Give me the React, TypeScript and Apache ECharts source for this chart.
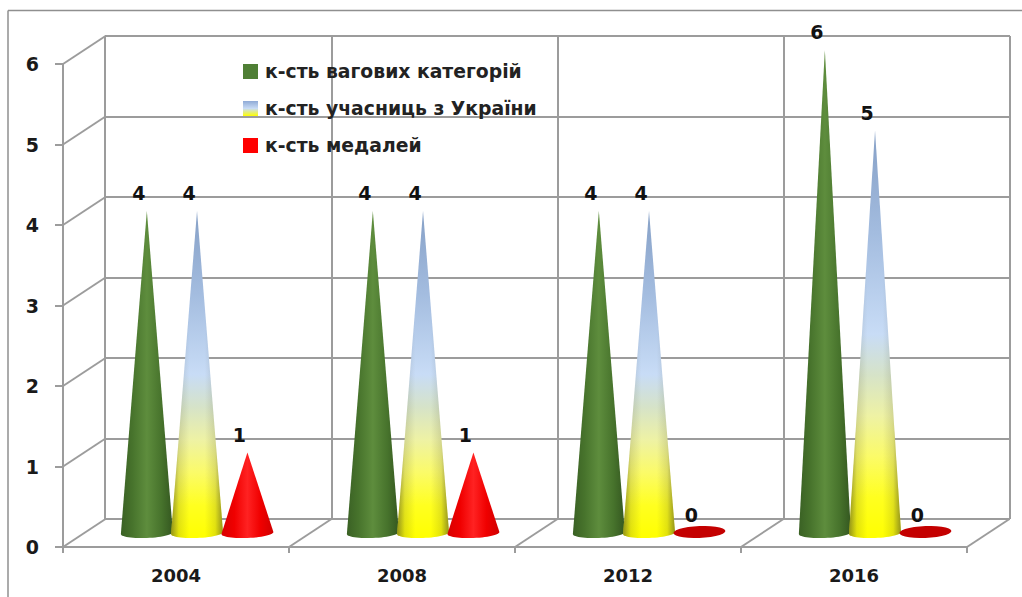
import React, { useEffect, useRef } from "react";
import * as echarts from "echarts";

const years = ["2004", "2008", "2012", "2016"];
const categoriesCount = [4, 4, 4, 6];
const ukraineCount = [4, 4, 4, 5];
const medalsCount = [1, 1, 0, 0];
const valueTicks = [0, 1, 2, 3, 4, 5, 6];
const seriesNames = ["к-сть вагових категорій", "к-сть учасниць з України", "к-сть медалей"];

const FONT = "'DejaVu Sans', Verdana, sans-serif";
const GREY = "#9c9c9c";
const DEPTH_X = 42.5;
const DEPTH_Y = 28;
const TILT = 0.04;

const hGrad = (stops: [number, string][]) =>
  new echarts.graphic.LinearGradient(0, 0, 1, 0, stops.map(([offset, color]) => ({ offset, color })));
const vGrad = (stops: [number, string][]) =>
  new echarts.graphic.LinearGradient(0, 0, 0, 1, stops.map(([offset, color]) => ({ offset, color })));

const greenFill = () =>
  hGrad([[0, "#3a6124"], [0.22, "#47732c"], [0.5, "#5e8d3d"], [0.78, "#47732c"], [1, "#345720"]]);
const ukraineFill = () =>
  vGrad([[0, "#86a0c6"], [0.25, "#a3bcdf"], [0.5, "#c8dcf6"], [0.6, "#d6e3c8"], [0.7, "#eef2a4"], [0.8, "#fbfb68"], [0.9, "#ffff20"], [1, "#ffff00"]]);
const ukraineShade = () =>
  hGrad([[0, "rgba(60,60,40,0.55)"], [0.15, "rgba(60,60,40,0.15)"], [0.35, "rgba(60,60,40,0)"], [0.65, "rgba(60,60,40,0)"], [0.85, "rgba(60,60,40,0.15)"], [1, "rgba(60,60,40,0.55)"]]);
const redFill = () =>
  hGrad([[0, "#d80000"], [0.25, "#f00000"], [0.5, "#ff2222"], [0.75, "#f00000"], [1, "#d00000"]]);

function arc(cx: number, cy: number, rx: number, ry: number, from: number, to: number) {
  const pts: number[][] = [];
  const n = 28;
  for (let i = 0; i <= n; i++) {
    const a = from + ((to - from) * i) / n;
    const dx = rx * Math.cos(a);
    pts.push([cx + dx, cy + ry * Math.sin(a) - TILT * dx]);
  }
  return pts;
}

function coneRenderer(offset: number, fill: () => any, shade?: () => any) {
  return (_: any, api: any) => {
    const idx = api.value(0);
    const val = api.value(1);
    const band = api.size([1, 0])[0];
    const [c0, baseY] = api.coord([idx, 0]);
    const topY = api.coord([idx, val])[1];
    const cx = c0 + band * offset;
    const rx = band * 0.115;
    const ry = 5;
    const label = {
      type: "text",
      z2: 20,
      style: {
        text: String(val),
        x: cx - 8,
        y: topY - 18,
        align: "center",
        verticalAlign: "middle",
        font: `bold 19px ${FONT}`,
        fill: "#111",
      },
    };
    if (val === 0) {
      return {
        type: "group",
        children: [
          { type: "polygon", shape: { points: arc(cx, baseY - 1, rx, ry + 1, 0, Math.PI * 2) }, style: { fill: "#c40000" } },
          label,
        ],
      };
    }
    const pts = [[cx, topY], ...arc(cx, baseY, rx, ry, 0, Math.PI)];
    const children: any[] = [{ type: "polygon", shape: { points: pts }, style: { fill: fill() } }];
    if (shade) children.push({ type: "polygon", shape: { points: pts }, style: { fill: shade() } });
    children.push(label);
    return { type: "group", children };
  };
}

function App() {
  const ref = useRef<HTMLDivElement>(null);
  useEffect(() => {
    document.body.style.margin = "0";
    const chart = echarts.init(ref.current!, undefined, { renderer: "svg" });
    const hiddenAxis = { show: false };
    const lineStyle = { color: GREY, width: 2 };

    const xBase = { type: "category", data: years };
    const yBase = { type: "value", min: 0, max: 6, interval: 1 };

    chart.setOption({
      animation: false,
      backgroundColor: "#ffffff",
      graphic: [
        { type: "line", shape: { x1: 8, y1: 10.5, x2: 1022, y2: 10.5 }, style: { stroke: "#8f8f8f", lineWidth: 1.5 } },
        { type: "line", shape: { x1: 8, y1: 10.5, x2: 8, y2: 597 }, style: { stroke: "#8f8f8f", lineWidth: 1.5 } },
      ],
      legend: {
        orient: "vertical",
        left: 243,
        top: 62,
        padding: 0,
        itemWidth: 15,
        itemHeight: 15,
        itemGap: 18,
        selectedMode: false,
        icon: "rect",
        textStyle: { fontFamily: FONT, fontWeight: "bold", fontSize: 18.8, color: "#222", lineHeight: 16, padding: [0, 0, 0, 2] },
        data: [
          { name: seriesNames[0], itemStyle: { color: "#4f7f35" } },
          { name: seriesNames[1], itemStyle: { color: vGrad([[0, "#8faad6"], [0.5, "#c9dcf5"], [1, "#ffff00"]]) } },
          { name: seriesNames[2], itemStyle: { color: "#ff0000" } },
        ],
      },
      grid: [
        { left: 105, top: 36, width: 905, height: 483 }, // back wall
        { left: 63, top: 64, width: 904, height: 483 }, // front plane
        { left: 84.7, top: 50, width: 904, height: 483 }, // plane of the cones
      ],
      xAxis: [
        {
          ...xBase,
          gridIndex: 0,
          axisLine: hiddenAxis,
          axisTick: hiddenAxis,
          axisLabel: hiddenAxis,
          splitLine: { show: true, lineStyle },
        },
        {
          ...xBase,
          gridIndex: 1,
          axisLine: { show: true, lineStyle },
          axisTick: { show: true, length: 6, lineStyle },
          axisLabel: { margin: 19, fontFamily: FONT, fontWeight: "bold", fontSize: 18, color: "#1a1a1a" },
          splitLine: hiddenAxis,
        },
        { ...xBase, gridIndex: 2, show: false },
      ],
      yAxis: [
        {
          ...yBase,
          gridIndex: 0,
          axisLine: hiddenAxis,
          axisTick: hiddenAxis,
          axisLabel: hiddenAxis,
          splitLine: { show: true, lineStyle },
        },
        {
          ...yBase,
          gridIndex: 1,
          axisLine: { show: true, lineStyle },
          axisTick: { show: true, length: 8, lineStyle },
          axisLabel: { margin: 24, fontFamily: FONT, fontWeight: "bold", fontSize: 19, color: "#1a1a1a" },
          splitLine: hiddenAxis,
        },
        { ...yBase, gridIndex: 2, show: false },
      ],
      series: [
        {
          type: "custom",
          name: "walls-left",
          xAxisIndex: 1,
          yAxisIndex: 1,
          silent: true,
          data: valueTicks.map((v) => [0, v]),
          encode: { x: 0, y: 1 },
          renderItem: (_: any, api: any) => {
            const band = api.size([1, 0])[0];
            const [x, y] = api.coord([0, api.value(1)]);
            return {
              type: "line",
              shape: { x1: x - band / 2, y1: y, x2: x - band / 2 + DEPTH_X, y2: y - DEPTH_Y },
              style: { stroke: GREY, lineWidth: 2 },
            };
          },
        },
        {
          type: "custom",
          name: "walls-floor",
          xAxisIndex: 1,
          yAxisIndex: 1,
          silent: true,
          data: years.map((_, i) => [i, 0]),
          encode: { x: 0, y: 1 },
          renderItem: (_: any, api: any) => {
            const band = api.size([1, 0])[0];
            const [x, y] = api.coord([api.value(0), 0]);
            return {
              type: "line",
              shape: { x1: x + band / 2, y1: y, x2: x + band / 2 + DEPTH_X, y2: y - DEPTH_Y },
              style: { stroke: GREY, lineWidth: 2 },
            };
          },
        },
        {
          type: "custom",
          name: seriesNames[0],
          xAxisIndex: 2,
          yAxisIndex: 2,
          silent: true,
          z: 5,
          data: categoriesCount.map((v, i) => [i, v]),
          encode: { x: 0, y: 1 },
          renderItem: coneRenderer(-0.225, greenFill),
        },
        {
          type: "custom",
          name: seriesNames[1],
          xAxisIndex: 2,
          yAxisIndex: 2,
          silent: true,
          z: 6,
          data: ukraineCount.map((v, i) => [i, v]),
          encode: { x: 0, y: 1 },
          renderItem: coneRenderer(-0.003, ukraineFill, ukraineShade),
        },
        {
          type: "custom",
          name: seriesNames[2],
          xAxisIndex: 2,
          yAxisIndex: 2,
          silent: true,
          z: 7,
          data: medalsCount.map((v, i) => [i, v]),
          encode: { x: 0, y: 1 },
          renderItem: coneRenderer(0.22, redFill),
        },
      ],
    });
    return () => chart.dispose();
  }, []);
  return <div ref={ref} style={{ width: 1022, height: 597 }} />;
}

export default App;
